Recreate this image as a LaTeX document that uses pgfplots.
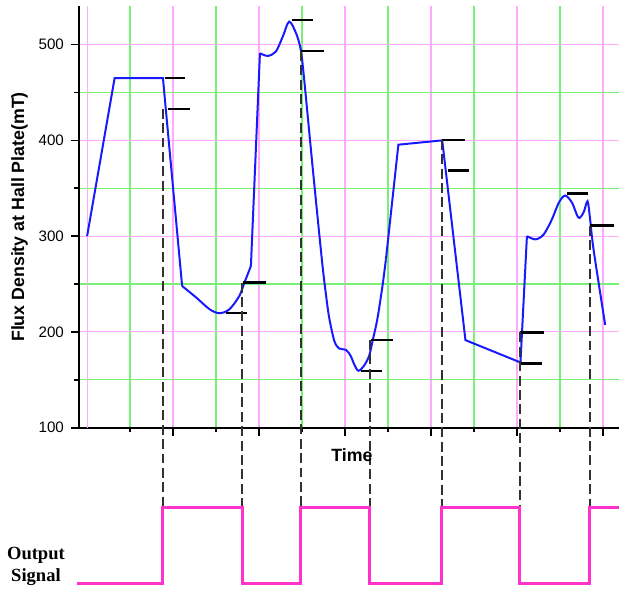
\documentclass[border=0pt]{standalone}
\usepackage{pgfplots}
\pgfplotsset{compat=1.18}
\usepackage{fontspec}
\setmainfont{Liberation Sans}
\newfontfamily\timesfont{Liberation Serif}
\definecolor{gridpink}{RGB}{255,170,255}
\definecolor{gridgreen}{RGB}{120,240,120}
\definecolor{curveblue}{RGB}{25,25,255}
\definecolor{pulse}{RGB}{255,51,204}
\definecolor{dashgray}{RGB}{50,50,50}
\begin{document}
\begin{tikzpicture}
\begin{axis}[
  x=21.55pt, y=0.48pt,
  xmin=-0.19, xmax=12.36, ymin=100, ymax=540,
  axis x line*=bottom, axis y line*=left,
  axis line style={line width=1pt, black},
  clip=false,
  xtick={2,4,...,12}, minor xtick={1,3,...,11},
  xticklabels={},
  extra x ticks={0}, extra x tick labels={},
  extra x tick style={major tick length=0pt, grid=major},
  ytick={100,200,...,500}, minor ytick={150,250,...,450},
  tick align=outside,
  major tick length=4pt, minor tick length=2.4pt,
  tick style={black, line width=0.85pt},
  grid=both,
  major grid style={gridpink, line width=0.6pt},
  minor grid style={gridgreen, line width=0.6pt},
  ticklabel style={font=\fontsize{7.6}{9}\selectfont},
  /pgf/number format/assume math mode=true,
  xlabel={Time}, ylabel={Flux Density at Hall Plate(mT)},
  label style={font=\bfseries\fontsize{8.9}{10}\selectfont},
  xlabel style={at={(axis description cs:0.506,-0.065)}, anchor=center},
  ylabel style={at={(axis description cs:-0.11,0.5)}, anchor=center},
]
% invisible frame fixing the picture size
\path (axis cs:-2.026,546.6) rectangle (axis cs:12.36,-68);

% flux density curve
\addplot[curveblue, line width=1pt] coordinates {(0,300) (0.64,465) (1.764,465) (2.21,247.9)};
\addplot[curveblue, line width=1pt, smooth] coordinates {(2.21,247.9) (2.54,235.8) (2.85,223.6) (3.08,219.5) (3.31,223.6) (3.54,237.5) (3.66,251.5) (3.81,268.8)};
\addplot[curveblue, line width=1pt] coordinates {(3.81,268.8) (4.02,491)};
\addplot[curveblue, line width=1pt, smooth] coordinates {(4.02,491) (4.20,488.2) (4.39,492.7) (4.55,508.3) (4.70,524) (4.86,511.9) (4.97,494.5) (5.05,463.2) (5.25,370) (5.46,275.7) (5.55,241) (5.63,215) (5.75,190.6) (5.86,182.7) (6.02,181.3) (6.13,175) (6.21,166.4) (6.31,159.4) (6.44,164.6) (6.56,175) (6.64,190.6) (6.75,213.2) (6.87,247.9) (6.95,275.7)};
\addplot[curveblue, line width=1pt] coordinates {(6.95,275.7) (7.24,395.5) (8.26,400) (8.80,191.4) (10.08,168.1) (10.23,300)};
\addplot[curveblue, line width=1pt, smooth] coordinates {(10.23,300) (10.43,296.6) (10.62,301.8) (10.81,317.4) (10.97,334.8) (11.12,342.4) (11.28,334.8) (11.43,319.2) (11.55,325) (11.64,336.5) (11.70,317.4) (11.78,286) (12.05,207.3)};

% threshold markers
\addplot[black, line width=1.2pt] coordinates {(1.819,465) (2.283,465)};
\addplot[black, line width=1.2pt] coordinates {(1.879,433) (2.383,433)};
\addplot[black, line width=1.2pt] coordinates {(3.619,251.5) (4.162,251.5)};
\addplot[black, line width=1.2pt] coordinates {(3.234,219.5) (3.712,219.5)};
\addplot[black, line width=1.2pt] coordinates {(4.766,525.4) (5.244,525.4)};
\addplot[black, line width=1.2pt] coordinates {(4.974,493.4) (5.515,493.4)};
\addplot[black, line width=1.2pt] coordinates {(6.599,191.4) (7.123,191.4)};
\addplot[black, line width=1.2pt] coordinates {(6.367,159) (6.854,159)};
\addplot[black, line width=1.2pt] coordinates {(8.260,400.4) (8.780,400.4)};
\addplot[black, line width=1.2pt] coordinates {(8.392,368.4) (8.879,368.4)};
\addplot[black, line width=1.2pt] coordinates {(10.079,199.4) (10.636,199.4)};
\addplot[black, line width=1.2pt] coordinates {(10.079,167.1) (10.580,167.1)};
\addplot[black, line width=1.2pt] coordinates {(11.160,344.5) (11.647,344.5)};
\addplot[black, line width=1.2pt] coordinates {(11.703,311) (12.244,311)};

% dashed switching lines
\addplot[dashgray, line width=1pt, dash pattern=on 5pt off 2.2pt] coordinates {(1.764,433) (1.764,17.1)};
\addplot[dashgray, line width=1pt, dash pattern=on 5pt off 2.2pt] coordinates {(3.606,251.5) (3.606,17.1)};
\addplot[dashgray, line width=1pt, dash pattern=on 5pt off 2.2pt] coordinates {(4.974,493.4) (4.974,17.1)};
\addplot[dashgray, line width=1pt, dash pattern=on 5pt off 2.2pt] coordinates {(6.575,191.4) (6.575,17.1)};
\addplot[dashgray, line width=1pt, dash pattern=on 5pt off 2.2pt] coordinates {(8.246,400.4) (8.246,17.1)};
\addplot[dashgray, line width=1pt, dash pattern=on 5pt off 2.2pt] coordinates {(10.063,199.4) (10.063,17.1)};
\addplot[dashgray, line width=1pt, dash pattern=on 5pt off 2.2pt] coordinates {(11.687,311) (11.687,17.1)};

% output signal
\addplot[pulse, line width=1.5pt, const plot] coordinates {(-0.246,-62.8) (1.764,17.1) (3.606,-62.8) (4.974,17.1) (6.575,-62.8) (8.246,17.1) (10.063,-62.8) (11.687,17.1) (12.36,17.1)};

\node[font=\timesfont\bfseries\fontsize{9.3}{11.3}\selectfont, align=center] at (axis cs:-1.19,-45) {Output\\Signal};
\end{axis}
\end{tikzpicture}
\end{document}
